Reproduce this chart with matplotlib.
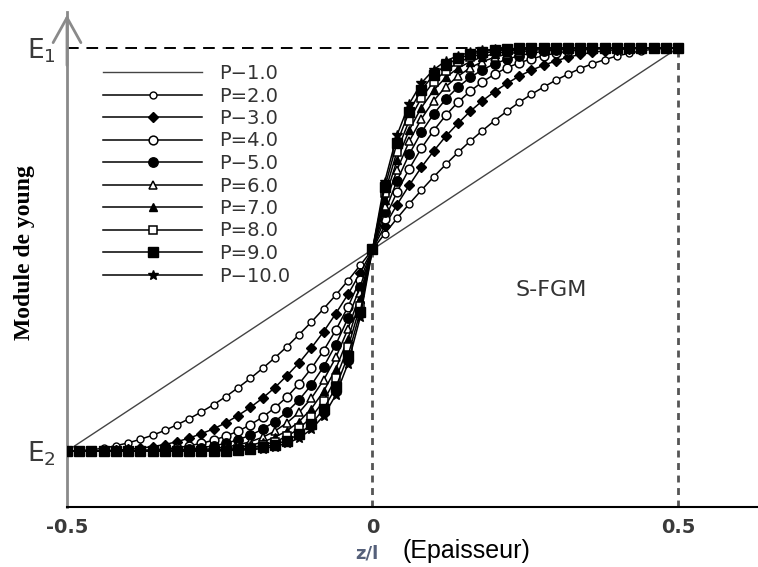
import matplotlib
matplotlib.use("Agg")
import matplotlib.pyplot as plt

# ---------------- data ----------------
z = [-0.50, -0.48, -0.46, -0.44, -0.42, -0.40, -0.38, -0.36, -0.34, -0.32,
     -0.30, -0.28, -0.26, -0.24, -0.22, -0.20, -0.18, -0.16, -0.14, -0.12,
     -0.10, -0.08, -0.06, -0.04, -0.02, 0.00, 0.02, 0.04, 0.06, 0.08,
     0.10, 0.12, 0.14, 0.16, 0.18, 0.20, 0.22, 0.24, 0.26, 0.28,
     0.30, 0.32, 0.34, 0.36, 0.38, 0.40, 0.42, 0.44, 0.46, 0.48, 0.50]

# E normalised: 0 = E2, 1 = E1
E_p1 = [0.00, 0.02, 0.04, 0.06, 0.08, 0.10, 0.12, 0.14, 0.16, 0.18, 0.20, 0.22, 0.24,
        0.26, 0.28, 0.30, 0.32, 0.34, 0.36, 0.38, 0.40, 0.42, 0.44, 0.46, 0.48, 0.50,
        0.52, 0.54, 0.56, 0.58, 0.60, 0.62, 0.64, 0.66, 0.68, 0.70, 0.72, 0.74, 0.76,
        0.78, 0.80, 0.82, 0.84, 0.86, 0.88, 0.90, 0.92, 0.94, 0.96, 0.98, 1.00]
E_p2 = [0.000, 0.001, 0.003, 0.007, 0.013, 0.020, 0.029, 0.039, 0.051, 0.065, 0.080, 0.097, 0.115,
        0.135, 0.157, 0.180, 0.205, 0.231, 0.259, 0.289, 0.320, 0.353, 0.387, 0.423, 0.461, 0.500,
        0.539, 0.577, 0.613, 0.647, 0.680, 0.711, 0.741, 0.769, 0.795, 0.820, 0.843, 0.865, 0.885,
        0.903, 0.920, 0.935, 0.949, 0.961, 0.971, 0.980, 0.987, 0.993, 0.997, 0.999, 1.000]
E_p3 = [0.000, 0.000, 0.000, 0.001, 0.002, 0.004, 0.007, 0.011, 0.016, 0.023, 0.032, 0.043, 0.055,
        0.070, 0.088, 0.108, 0.131, 0.157, 0.187, 0.219, 0.256, 0.296, 0.341, 0.389, 0.442, 0.500,
        0.558, 0.611, 0.659, 0.704, 0.744, 0.781, 0.813, 0.843, 0.869, 0.892, 0.912, 0.930, 0.945,
        0.957, 0.968, 0.977, 0.984, 0.989, 0.993, 0.996, 0.998, 0.999, 1.000, 1.000, 1.000]
E_p4 = [0.000, 0.000, 0.000, 0.000, 0.000, 0.001, 0.002, 0.003, 0.005, 0.008, 0.013, 0.019, 0.027,
        0.037, 0.049, 0.065, 0.084, 0.107, 0.134, 0.167, 0.205, 0.249, 0.300, 0.358, 0.425, 0.500,
        0.575, 0.642, 0.700, 0.751, 0.795, 0.833, 0.866, 0.893, 0.916, 0.935, 0.951, 0.963, 0.973,
        0.981, 0.987, 0.992, 0.995, 0.997, 0.998, 0.999, 1.000, 1.000, 1.000, 1.000, 1.000]
E_p5 = [0.000, 0.000, 0.000, 0.000, 0.000, 0.000, 0.000, 0.001, 0.002, 0.003, 0.005, 0.008, 0.013,
        0.019, 0.028, 0.039, 0.054, 0.073, 0.097, 0.127, 0.164, 0.209, 0.264, 0.330, 0.408, 0.500,
        0.592, 0.670, 0.736, 0.791, 0.836, 0.873, 0.903, 0.927, 0.946, 0.961, 0.972, 0.981, 0.987,
        0.992, 0.995, 0.997, 0.998, 0.999, 1.000, 1.000, 1.000, 1.000, 1.000, 1.000, 1.000]
E_p6 = [0.000, 0.000, 0.000, 0.000, 0.000, 0.000, 0.000, 0.000, 0.001, 0.001, 0.002, 0.004, 0.006,
        0.010, 0.015, 0.023, 0.034, 0.049, 0.070, 0.096, 0.131, 0.176, 0.232, 0.303, 0.391, 0.500,
        0.609, 0.697, 0.768, 0.824, 0.869, 0.904, 0.930, 0.951, 0.966, 0.977, 0.985, 0.990, 0.994,
        0.996, 0.998, 0.999, 0.999, 1.000, 1.000, 1.000, 1.000, 1.000, 1.000, 1.000, 1.000]
E_p7 = [0.000, 0.000, 0.000, 0.000, 0.000, 0.000, 0.000, 0.000, 0.000, 0.000, 0.001, 0.002, 0.003,
        0.005, 0.009, 0.014, 0.022, 0.034, 0.050, 0.073, 0.105, 0.148, 0.204, 0.279, 0.376, 0.500,
        0.624, 0.721, 0.796, 0.852, 0.895, 0.927, 0.950, 0.966, 0.978, 0.986, 0.991, 0.995, 0.997,
        0.998, 0.999, 1.000, 1.000, 1.000, 1.000, 1.000, 1.000, 1.000, 1.000, 1.000, 1.000]
E_p8 = [0.000, 0.000, 0.000, 0.000, 0.000, 0.000, 0.000, 0.000, 0.000, 0.000, 0.000, 0.001, 0.001,
        0.003, 0.005, 0.008, 0.014, 0.023, 0.036, 0.056, 0.084, 0.124, 0.180, 0.257, 0.361, 0.500,
        0.639, 0.743, 0.820, 0.876, 0.916, 0.944, 0.964, 0.977, 0.986, 0.992, 0.995, 0.997, 0.999,
        0.999, 1.000, 1.000, 1.000, 1.000, 1.000, 1.000, 1.000, 1.000, 1.000, 1.000, 1.000]
E_p9 = [0.000, 0.000, 0.000, 0.000, 0.000, 0.000, 0.000, 0.000, 0.000, 0.000, 0.000, 0.000, 0.001,
        0.001, 0.003, 0.005, 0.009, 0.016, 0.026, 0.042, 0.067, 0.104, 0.158, 0.236, 0.346, 0.500,
        0.654, 0.764, 0.842, 0.896, 0.933, 0.958, 0.974, 0.984, 0.991, 0.995, 0.997, 0.999, 0.999,
        1.000, 1.000, 1.000, 1.000, 1.000, 1.000, 1.000, 1.000, 1.000, 1.000, 1.000, 1.000]
E_p10 = [0.000, 0.000, 0.000, 0.000, 0.000, 0.000, 0.000, 0.000, 0.000, 0.000, 0.000, 0.000, 0.000,
         0.001, 0.002, 0.003, 0.006, 0.011, 0.019, 0.032, 0.054, 0.087, 0.139, 0.217, 0.332, 0.500,
         0.668, 0.783, 0.861, 0.913, 0.946, 0.968, 0.981, 0.989, 0.994, 0.997, 0.998, 0.999, 1.000,
         1.000, 1.000, 1.000, 1.000, 1.000, 1.000, 1.000, 1.000, 1.000, 1.000, 1.000, 1.000]

series_values = [E_p1, E_p2, E_p3, E_p4, E_p5, E_p6, E_p7, E_p8, E_p9, E_p10]
series_labels = ["P\u22121.0", "P=2.0", "P\u22123.0", "P=4.0", "P\u22125.0",
                 "P=6.0", "P=7.0", "P=8.0", "P=9.0", "P\u221210.0"]
x_ticks = [-0.5, 0, 0.5]
x_tick_labels = ["-0.5", "0", "0.5"]
y_ticks = [0, 1]
y_tick_labels = [r"$\mathregular{E_2}$", r"$\mathregular{E_1}$"]

# ---------------- styles ----------------
styles = [
    dict(marker=None, color="#444444", lw=1.0),
    dict(marker="o", ms=5.0, mfc="white", mec="black", mew=1.0),
    dict(marker="D", ms=4.6, mfc="black", mec="black"),
    dict(marker="o", ms=6.3, mfc="white", mec="black", mew=1.1),
    dict(marker="o", ms=6.8, mfc="black", mec="black"),
    dict(marker="^", ms=5.8, mfc="white", mec="black", mew=1.1),
    dict(marker="^", ms=6.3, mfc="black", mec="black"),
    dict(marker="s", ms=5.8, mfc="white", mec="black", mew=1.1),
    dict(marker="s", ms=7.3, mfc="black", mec="black"),
    dict(marker="*", ms=7.5, mfc="black", mec="black"),
]

plt.rcParams["mathtext.fontset"] = "custom"
plt.rcParams["mathtext.rm"] = "DejaVu Sans"
plt.rcParams["font.family"] = ["DejaVu Sans"]

W, H = 758, 567
fig = plt.figure(figsize=(W / 100, H / 100), dpi=100)
ax = fig.add_axes([67 / W, 60 / H, (W - 67) / W, (507 - 12) / H])
ax.set_xlim(-0.5, 0.631)
ax.set_ylim(-0.139, 1.0893)

# reference dashed lines
ax.hlines(1, -0.5, 0.5, colors="black", lw=1.4, linestyles=(0, (6, 4)), zorder=1)
ax.vlines(0, -0.139, 0.5, colors="#555555", lw=2.0, linestyles=(0, (2.5, 2.0)), zorder=1)
ax.vlines(0.5, -0.139, 1, colors="#555555", lw=2.0, linestyles=(0, (2.5, 2.0)), zorder=1)

for vals, lab, st in zip(series_values, series_labels, styles):
    st = dict(st)
    color = st.pop("color", "black")
    lw = st.pop("lw", 1.1)
    ax.plot(z, vals, color=color, lw=lw, label=lab, zorder=3, **st)

# axes styling
for s in ("top", "right"):
    ax.spines[s].set_visible(False)
ax.spines["left"].set_color("#8a8a8a")
ax.spines["left"].set_linewidth(2.0)
ax.spines["bottom"].set_color("black")
ax.spines["bottom"].set_linewidth(1.5)
ax.annotate("", xy=(-0.5, 1.0893), xytext=(-0.5, 0.95),
            arrowprops=dict(arrowstyle="->,head_length=0.9,head_width=0.5",
                            color="#8a8a8a", lw=2.0, mutation_scale=20),
            annotation_clip=False, zorder=5)

ax.set_xticks(x_ticks)
ax.set_xticklabels(x_tick_labels, fontsize=14, fontweight="bold", color="#3a3a3a")
ax.set_yticks(y_ticks)
ax.set_yticklabels(y_tick_labels, fontsize=19, color="#3a3a3a")
ax.tick_params(axis="x", length=0, pad=8)
ax.tick_params(axis="y", length=0, pad=8)

ax.text(0.293, 0.40, "S-FGM", fontsize=16, color="#333333", ha="center", va="center")

fig.text(25 / W, 1 - 253 / H, "Module de young", rotation=90, ha="center", va="center",
         fontsize=17, fontweight="bold", family=["Liberation Serif", "DejaVu Serif"])
fig.text(367 / W, 1 - 553 / H, "z/l", fontsize=13, fontweight="bold", color="#55607a",
         ha="center", va="center")
fig.text(403 / W, 1 - 551 / H, "(Epaisseur)", fontsize=18, color="black",
         ha="left", va="center", family=["Liberation Sans", "DejaVu Sans"])

leg = ax.legend(loc="upper left", bbox_to_anchor=(103 / W, 503 / H),
                bbox_transform=fig.transFigure, frameon=False, fontsize=14,
                handlelength=5.1, handletextpad=0.85, labelspacing=0.18,
                borderpad=0, borderaxespad=0)
for t in leg.get_texts():
    t.set_color("#333333")

fig.savefig("out.png", dpi=100)
